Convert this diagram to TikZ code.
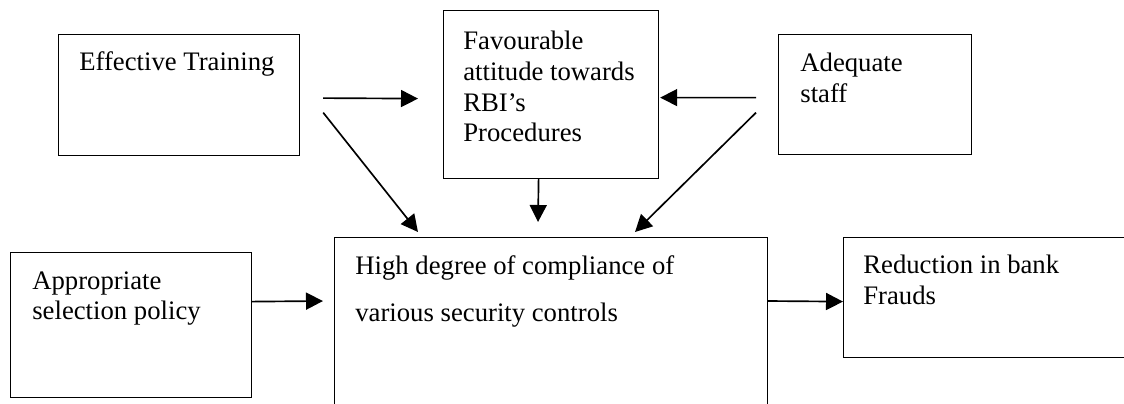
\documentclass[tikz,border=0pt]{standalone}
\usepackage{fontspec}
\setmainfont{Liberation Serif}
\usetikzlibrary{calc, positioning, arrows.meta}
\tikzset{
    box/.style={draw, line width=0.7pt, anchor=north west},
    boxtext/.style={anchor=north west, align=left, inner sep=0pt, font=\fontsize{15.2}{17.4}\selectfont},
    arr/.style={-{Triangle[length=0.34cm, width=0.34cm]}, line width=0.95pt},
}

\begin{document}
\begin{tikzpicture}[x=0.02cm, y=-0.02cm]

    \useasboundingbox (0,0) rectangle (1124,403);
    \clip (0,0) rectangle (1124,403);

    % Boxes
    \node (train)  [box, minimum width=4.82cm, minimum height=2.42cm] at (58,34)   {};
    \node (fav)    [box, minimum width=4.30cm, minimum height=3.36cm] at (443,10)  {};
    \node (staff)  [box, minimum width=3.86cm, minimum height=2.40cm] at (778,34)  {};
    \node (select) [box, minimum width=4.82cm, minimum height=2.90cm] at (10,252)  {};
    \node (high)   [box, minimum width=8.66cm, minimum height=4.00cm] at (334,237) {};
    \node (fraud)  [box, minimum width=6.40cm, minimum height=2.40cm] at (843,237) {};

    % Texts
    \node (train-t)  [boxtext] at ($(train.north west)+(21,17)$)  {Effective Training};
    \node (fav-t)    [boxtext] at ($(fav.north west)+(20,21)$)    {Favourable\\attitude towards\\RBI’s\\Procedures};
    \node (staff-t)  [boxtext] at ($(staff.north west)+(22,19)$)  {Adequate\\staff};
    \node (select-t) [boxtext] at ($(select.north west)+(22,19)$) {Appropriate\\selection policy};
    \node (high-t)   [boxtext, font=\fontsize{15.2}{26.7}\selectfont] at ($(high.north west)+(21,18)$) {High degree of compliance of\\various security controls};
    \node (fraud-t)  [boxtext] at ($(fraud.north west)+(20,18)$)  {Reduction in bank\\Frauds};

    % Connectors
    \begin{scope}[arr]

        \draw ($(train.east)+(23,3)$)      -- ($(fav.west)+(-25,4)$);
        \draw ($(staff.west)+(-22,3)$)     -- ($(fav.east)+(1,3)$);
        \draw ($(train.east)+(23,17.5)$)   -- ($(high.north west)+(84,-5)$);
        \draw ($(fav.south)+(-12.5,0)$)    -- ($(high.north west)+(204,-15)$);
        \draw ($(staff.west)+(-22,18)$)    -- ($(high.north west)+(301,-5)$);
        \draw ($(select.east)+(0,-23.5)$)  -- ($(high.north west)+(-11,64)$);
        \draw ($(high.north east)+(0,64)$) -- ($(fraud.west)+(0,4)$);

    \end{scope}

\end{tikzpicture}
\end{document}
